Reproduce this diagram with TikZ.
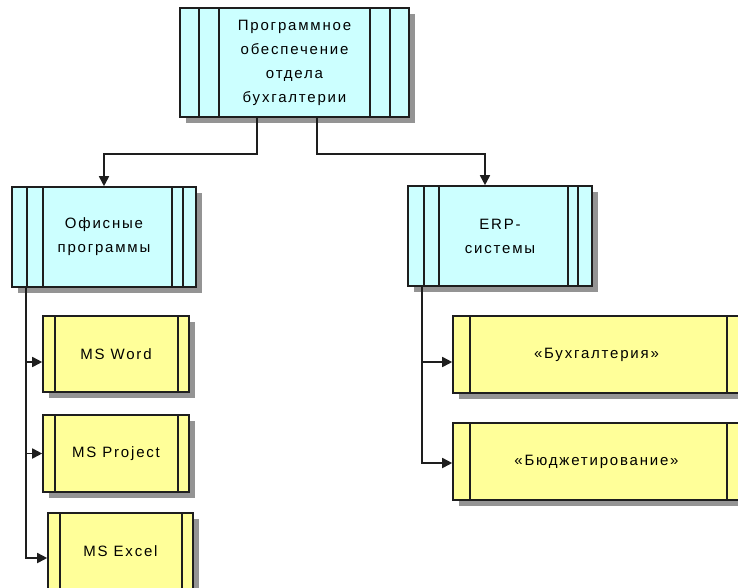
\documentclass[tikz,border=0pt]{standalone}
\usepackage{fontspec}
\usepackage{tikz}
\usetikzlibrary{positioning,calc,arrows.meta,shadows}
\newfontfamily\boxfont[LetterSpace=12]{Liberation Sans}
\definecolor{groupbg}{HTML}{CCFFFF}
\definecolor{itembg}{HTML}{FFFF99}
\definecolor{linec}{HTML}{1E1E1E}

\begin{document}
\begin{tikzpicture}[x=1pt, y=-1pt,
  % side bands: left offsets #1,#2 and right offsets #3,#4
  bands/.style n args={4}{path picture={
    \foreach \d in {#1,#2}
      \draw[linec, line width=1.5pt] ([xshift=\d pt]path picture bounding box.north west) -- ([xshift=\d pt]path picture bounding box.south west);
    \foreach \d in {#3,#4}
      \draw[linec, line width=1.5pt] ([xshift=-\d pt]path picture bounding box.north east) -- ([xshift=-\d pt]path picture bounding box.south east);
  }},
  box/.style={draw=linec, line width=1.6pt, inner sep=0pt, align=center,
    font=\boxfont\fontsize{15}{24}\selectfont,
    drop shadow={shadow xshift=6pt, shadow yshift=-6pt, fill=black!42, opacity=1}},
  group/.style={box, fill=groupbg},
  item/.style={box, fill=itembg},
  conn/.style={draw=linec, line width=1.7pt, -{Triangle[length=10pt,width=10pt]}}
]
  \useasboundingbox (0,0) rectangle (738,587);
  \clip (0,0) rectangle (738,587);

  % root of the tree
  \node[group, bands={19}{39}{19}{39}, minimum width=229pt, minimum height=109pt] (root) at (294.5,62.5)
    {Программное\\обеспечение\\отдела\\бухгалтерии};

  % two groups
  \node[group, bands={15}{31}{13}{24}, minimum width=184pt, minimum height=100pt] (office) at (104,237)
    {Офисные\\программы};
  \node[group, bands={16}{31}{14}{24}, minimum width=184pt, minimum height=100pt] (erp) at (500,236)
    {ERP-\\системы};

  % office programs
  \node[item, bands={12}{12}{11}{11}, minimum width=146pt, minimum height=76pt] (word) at (116,354) {MS Word};
  \node[item, bands={12}{12}{11}{11}, minimum width=146pt, minimum height=77pt] (project) at (116,453.5) {MS Project};
  \node[item, bands={12}{12}{11}{11}, minimum width=145pt, minimum height=77pt] (excel) at (120.5,551.5) {MS Excel};

  % ERP modules (cut by the right edge)
  \node[item, bands={17}{17}{13}{13}, minimum width=287pt, minimum height=77pt] (buh) at (596.5,354.5) {«Бухгалтерия»};
  \node[item, bands={17}{17}{13}{13}, minimum width=287pt, minimum height=77pt] (budget) at (596.5,461.5) {«Бюджетирование»};

  % root -> groups
  \draw[conn] ([xshift=-37.5pt]root.south) -- ++(0,36) -| (office.north);
  \draw[conn] ([xshift=22.5pt]root.south) -- ++(0,36) -| ([xshift=-15pt]erp.north);

  % group -> items
  \draw[conn] ([xshift=15pt]office.south west) |- ([yshift=-8pt]word.west);
  \draw[conn] ([xshift=15pt]office.south west) |- (project.west);
  \draw[conn] ([xshift=15pt]office.south west) |- ([yshift=-6.5pt]excel.west);
  \draw[conn] ([xshift=15pt]erp.south west) |- ([yshift=-7.5pt]buh.west);
  \draw[conn] ([xshift=15pt]erp.south west) |- ([yshift=-1.5pt]budget.west);
\end{tikzpicture}
\end{document}
